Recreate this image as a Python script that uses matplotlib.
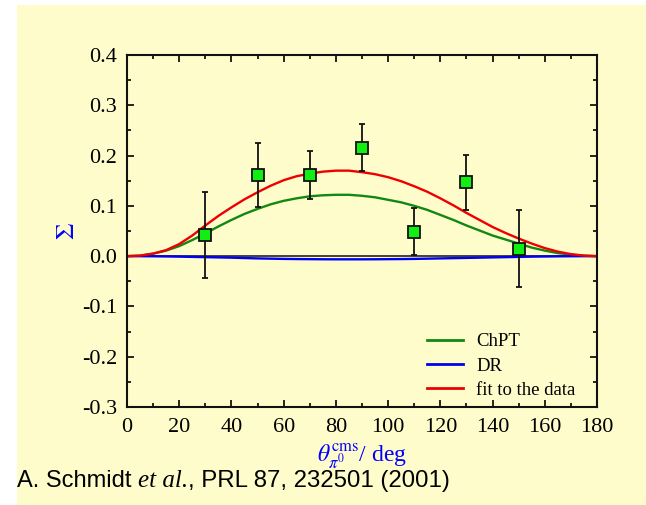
import matplotlib
matplotlib.use("Agg")
import matplotlib.pyplot as plt
from matplotlib.patches import Rectangle
from matplotlib.ticker import MultipleLocator

# measured beam asymmetry
theta_data = [30, 50, 70, 90, 110, 130, 150]
sigma_data = [0.042, 0.161, 0.161, 0.216, 0.049, 0.147, 0.015]
sigma_err = [0.086, 0.064, 0.048, 0.046, 0.046, 0.055, 0.076]

# model curves, every 5 deg
theta_curve = list(range(0, 181, 5))
fit_curve = [0.0, 0.001, 0.005, 0.012, 0.024, 0.041, 0.061, 0.080, 0.097, 0.113,
             0.127, 0.140, 0.151, 0.159, 0.164, 0.168, 0.170, 0.170, 0.167, 0.163,
             0.157, 0.149, 0.139, 0.128, 0.115, 0.101, 0.086, 0.072, 0.058, 0.046,
             0.035, 0.025, 0.016, 0.009, 0.004, 0.001, 0.0]
chpt_curve = [0.0, 0.001, 0.005, 0.011, 0.020, 0.032, 0.045, 0.059, 0.072, 0.084,
              0.094, 0.103, 0.110, 0.115, 0.119, 0.121, 0.122, 0.122, 0.120, 0.117,
              0.112, 0.107, 0.100, 0.092, 0.082, 0.072, 0.061, 0.051, 0.041, 0.033,
              0.025, 0.017, 0.011, 0.006, 0.003, 0.001, 0.0]
dr_curve = [0.0, -0.0001, -0.0003, -0.0006, -0.001, -0.0015, -0.002, -0.0025,
            -0.003, -0.0038, -0.0045, -0.005, -0.0055, -0.0058, -0.006, -0.0062,
            -0.0063, -0.0063, -0.0063, -0.0062, -0.006, -0.0058, -0.0055, -0.005,
            -0.0045, -0.004, -0.0035, -0.003, -0.0025, -0.002, -0.0015, -0.001,
            -0.0007, -0.0004, -0.0002, -0.0001, 0.0]

y_ticks = [0.4, 0.3, 0.2, 0.1, 0.0, -0.1, -0.2, -0.3]
y_ticklabels = ["0.4", "0.3", "0.2", "0.1", "0.0", "-0.1", "-0.2", "-0.3"]

bg = "#fffccc"
serif = ["Liberation Serif", "DejaVu Serif"]
plt.rcParams["font.family"] = serif
plt.rcParams["mathtext.fontset"] = "stix"

fig = plt.figure(figsize=(6.46, 5.05), dpi=100)
fig.patch.set_facecolor("white")
fig.patches.append(Rectangle((17 / 646, 0), 1, 1 - 5 / 505, transform=fig.transFigure,
                             facecolor=bg, edgecolor="none", zorder=-10))

ax = fig.add_axes([127 / 646, 1 - 407 / 505, 470 / 646, 352 / 505])
ax.set_facecolor(bg)

ax.plot(theta_curve, chpt_curve, color="#118811", lw=1.7, label="ChPT")
ax.plot(theta_curve, dr_curve, color="#0000ee", lw=1.7, label="DR")
ax.plot(theta_curve, fit_curve, color="#ee0000", lw=1.7, label="fit to the data")
ax.axhline(0, color="#222222", lw=1.2, zorder=1.5)

ax.errorbar(theta_data, sigma_data, yerr=sigma_err, fmt="s", ms=9,
            mfc="#11ee11", mec="#111111", mew=1.3, ecolor="#111111",
            elinewidth=1.3, capsize=2.5, capthick=1.3, zorder=5)

ax.set_xlim(0, 180)
ax.set_ylim(-0.3, 0.4)
ax.xaxis.set_major_locator(MultipleLocator(20))
ax.xaxis.set_minor_locator(MultipleLocator(10))
ax.yaxis.set_minor_locator(MultipleLocator(0.05))
ax.set_yticks(y_ticks)
ax.set_yticklabels(y_ticklabels)
for lab in ax.get_xticklabels() + ax.get_yticklabels():
    lab.set_family(serif)
ax.tick_params(which="both", direction="in", top=True, right=True, labelsize=16,
               width=1.2)
ax.tick_params(axis="x", pad=8)
ax.tick_params(axis="y", pad=7)
ax.tick_params(which="major", length=5)
ax.tick_params(which="minor", length=3)
for s in ax.spines.values():
    s.set_linewidth(1.5)
    s.set_color("#111111")

ax.set_ylabel(r"$\Sigma$", color="blue", fontsize=19, labelpad=2)
ax.set_xlabel(r"$\theta_{\pi^0}^{\rm cms}$/ deg", color="blue", fontsize=17, labelpad=3)

leg = ax.legend(loc="lower right", bbox_to_anchor=(0.99, -0.025), frameon=False,
                prop={"family": serif, "size": 13.5}, handlelength=1.9,
                labelspacing=0.38, handletextpad=0.7)
for line in leg.get_lines():
    line.set_linewidth(2)

# citation line: sans text with the italic part in a serif face
t1 = fig.text(17 / 646, 1 - 481 / 505, "A. Schmidt ", family=["Liberation Sans"],
              fontsize=17, va="center", ha="left")
fig.canvas.draw()
bb = t1.get_window_extent()
t2 = fig.text(bb.x1 / 646, 1 - 481 / 505, "et al.", family=serif, style="italic",
              fontsize=18, va="center", ha="left")
bb2 = t2.get_window_extent(renderer=fig.canvas.get_renderer())
fig.text(bb2.x1 / 646, 1 - 481 / 505, ", PRL 87, 232501 (2001)",
         family=["Liberation Sans"], fontsize=17.3, va="center", ha="left")

fig.savefig("out.png", dpi=100, facecolor=fig.get_facecolor())
